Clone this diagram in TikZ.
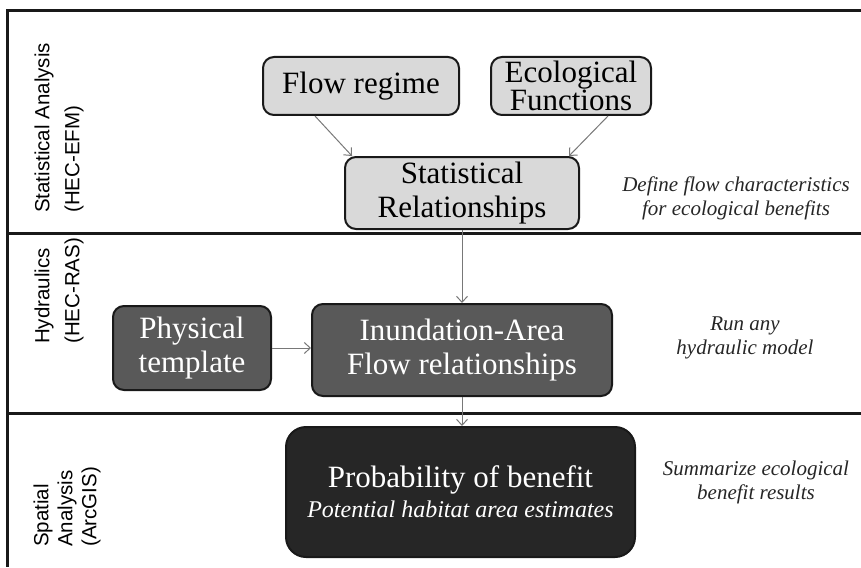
\documentclass[tikz,border=0pt]{standalone}
\usepackage{fontspec}
\setmainfont{Liberation Serif}
\newfontfamily\lanefont{Liberation Sans}
\usepackage{tikz}
\usetikzlibrary{arrows.meta}

\definecolor{boxlight}{RGB}{217,217,217}
\definecolor{boxdark}{RGB}{89,89,89}
\definecolor{boxblack}{RGB}{38,38,38}
\definecolor{linkgray}{RGB}{120,120,120}

\tikzset{
	box/.style = {draw=black!90, line width=2pt, rounded corners=11pt, align=center, inner sep=0pt, font=\fontsize{31}{34}\selectfont},
	lightbox/.style = {box, fill=boxlight},
	darkbox/.style = {box, fill=boxdark, text=white},
	blackbox/.style = {box, fill=boxblack, text=white, rounded corners=20pt},
	note/.style = {align=center, inner sep=0pt, text=black!85, font=\fontsize{21}{24}\selectfont\itshape},
	lane/.style = {rotate=90, anchor=west, align=left, inner sep=0pt, font=\lanefont\fontsize{20.5}{30}\selectfont},
	link/.style = {draw=linkgray, line width=1pt, -{Straight Barb[length=6pt,width=11pt]}}
}

\begin{document}
\begin{tikzpicture}[x=1pt, y=-1pt]
	\useasboundingbox (0,0) rectangle (861,567);
	% frame and lanes
	\draw[line width=3pt, black!90] (861,11) -- (7,11) -- (7,567);
	\foreach \y in {233,413} { \draw[line width=3pt, black!90] (7,\y) -- (861,\y); }
	\node[lane] (lanestat) at (59,213) {Statistical Analysis\\(HEC-EFM)};
	\node[lane] (lanehyd) at (59,344) {Hydraulics\\(HEC-RAS)};
	\node[lane, font=\lanefont\fontsize{20.5}{24}\selectfont] (lanegis) at (67,547) {Spatial\\Analysis\\(ArcGIS)};
	% boxes
	\node[lightbox, minimum width=196pt, minimum height=58pt] (regime) at (361,86) {Flow regime};
	\node[lightbox, minimum width=160pt, minimum height=58pt] (ecofun) at (571,86) {Ecological\\[-6pt]Functions};
	\node[lightbox, minimum width=234pt, minimum height=72pt] (statrel) at (462,193) {Statistical\\Relationships};
	\node[darkbox, minimum width=158pt, minimum height=84pt] (physical) at (192,348) {Physical\\template};
	\node[darkbox, minimum width=300pt, minimum height=92pt] (inundation) at (462,350) {Inundation-Area\\Flow relationships};
	\node[blackbox, minimum width=349pt, minimum height=130pt] (benefit) at (460.5,492) {Probability of benefit\\[-4pt]{\fontsize{24}{27}\selectfont\itshape Potential habitat area estimates}};
	% notes
	\node[note] (notestat) at (736,198) {Define flow characteristics\\for ecological benefits};
	\node[note] (notehyd) at (745,338) {Run any\\hydraulic model};
	\node[note] (notegis) at (756,482) {Summarize ecological\\benefit results};
	% links
	\draw[link] ([xshift=-46pt]regime.south) -- ([xshift=-110pt]statrel.north);
	\draw[link] ([xshift=37pt]ecofun.south) -- ([xshift=107pt]statrel.north);
	\draw[link] (statrel.south) -- (inundation.north);
	\draw[link] (physical.east) -- (physical.east -| inundation.west);
	\draw[link] (inundation.south) -- (inundation.south |- benefit.north);
\end{tikzpicture}
\end{document}
